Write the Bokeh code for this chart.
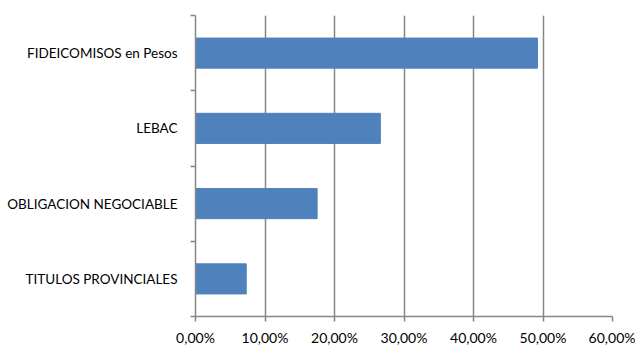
from bokeh.plotting import figure
from bokeh.models import FixedTicker, Range1d
from bokeh.embed import file_html
from bokeh.resources import INLINE

categories = ["TITULOS PROVINCIALES", "OBLIGACION NEGOCIABLE", "LEBAC", "FIDEICOMISOS en Pesos"]
values = [7.3, 17.5, 26.6, 49.2]
x_ticks = [0, 10, 20, 30, 40, 50, 60]
x_tick_labels = ["0,00%", "10,00%", "20,00%", "30,00%", "40,00%", "50,00%", "60,00%"]

y_pos = [i + 0.5 for i in range(len(categories))]
y_bounds = [i for i in range(len(categories) + 1)]

GREY = "#868686"
FONT = "Lato"

p = figure(frame_width=417, frame_height=301, x_range=Range1d(0, 60), y_range=Range1d(0, len(categories)),
           output_backend="svg", toolbar_location=None,
           min_border_left=195, min_border_top=15, min_border_right=23, min_border_bottom=29)
p.outline_line_color = None

p.hbar(y=y_pos, left=0, right=values, height=0.4, fill_color="#4F81BD", line_color="#4F81BD")

# x axis
p.xaxis.ticker = FixedTicker(ticks=x_ticks, minor_ticks=[])
p.xaxis.major_label_overrides = {t: l for t, l in zip(x_ticks, x_tick_labels)}
p.xaxis.axis_line_color = GREY
p.xaxis.axis_line_width = 1.5
p.xaxis.major_tick_line_color = GREY
p.xaxis.major_tick_line_width = 1.5
p.xaxis.major_tick_in = 0
p.xaxis.major_tick_out = 5
p.xaxis.minor_tick_line_color = None
p.xaxis.major_label_standoff = 7
p.xaxis.major_label_text_font = FONT
p.xaxis.major_label_text_font_size = "14px"
p.xaxis.major_label_text_color = "#000000"

# y axis
p.yaxis.ticker = FixedTicker(ticks=y_pos, minor_ticks=y_bounds)
p.yaxis.major_label_overrides = {t: c for t, c in zip(y_pos, categories)}
p.yaxis.axis_line_color = GREY
p.yaxis.axis_line_width = 1.5
p.yaxis.major_tick_line_color = None
p.yaxis.major_tick_in = 0
p.yaxis.major_tick_out = 0
p.yaxis.minor_tick_line_color = GREY
p.yaxis.minor_tick_line_width = 1.5
p.yaxis.minor_tick_in = 0
p.yaxis.minor_tick_out = 5
p.yaxis.major_label_standoff = 13
p.yaxis.major_label_text_font = FONT
p.yaxis.major_label_text_font_size = "13.5px"
p.yaxis.major_label_text_color = "#000000"

p.xgrid.grid_line_color = GREY
p.xgrid.grid_line_width = 1.5
p.ygrid.grid_line_color = None

open("out.html", "w").write(file_html(p, INLINE))
